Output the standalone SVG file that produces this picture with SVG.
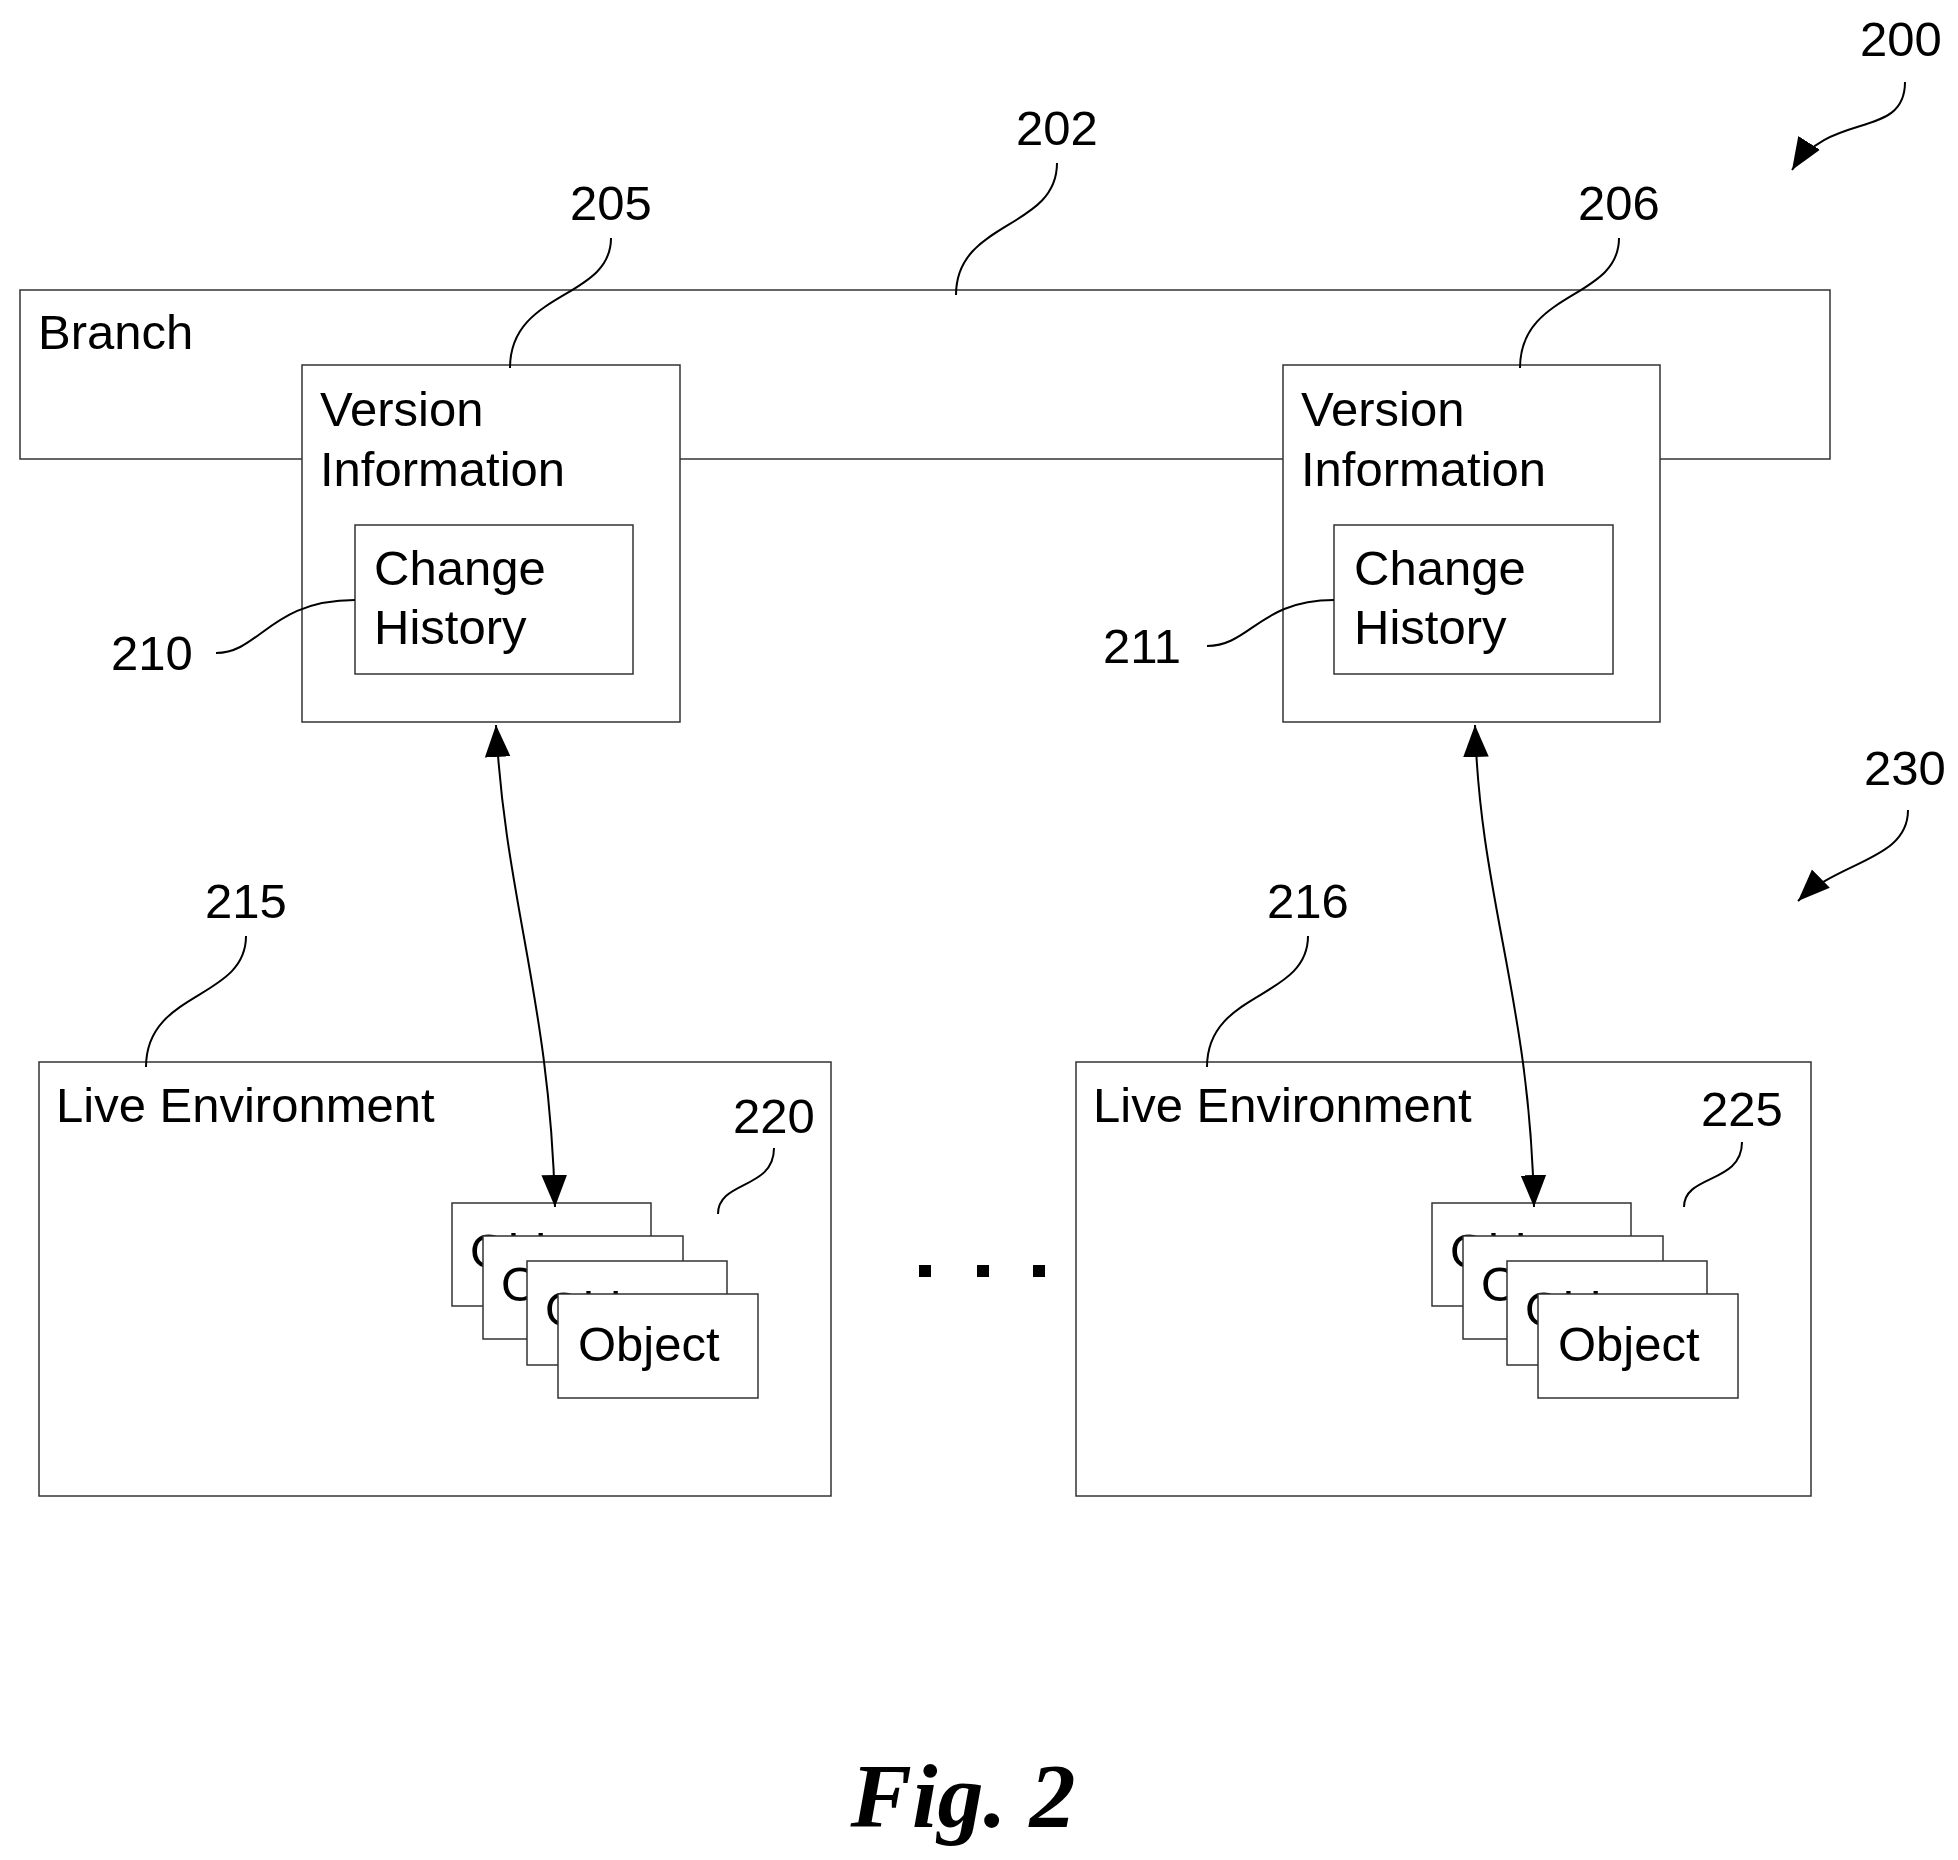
<svg xmlns="http://www.w3.org/2000/svg" width="1958" height="1860" viewBox="0 0 1958 1860">
<defs>
<style>
.b{fill:#fff;stroke:#333;stroke-width:1.5}
.t{font-family:"Liberation Sans",Arial,sans-serif;font-size:49px;fill:#000}
.l{fill:none;stroke:#000;stroke-width:2}
.f{font-family:"Liberation Serif","Times New Roman",serif;font-size:92px;font-weight:bold;font-style:italic}
</style>
<marker id="h" viewBox="0 0 10 10" refX="10" refY="5" markerWidth="32" markerHeight="32" markerUnits="userSpaceOnUse" orient="auto-start-reverse"><path d="M0,1 L10,5 L0,9 Z"/></marker>
</defs>
<rect width="1958" height="1860" fill="#fff"/>
<g id="branch"><rect class="b" x="20" y="290" width="1810" height="169"/><text class="t" x="38" y="349">Branch</text></g>
<g id="v205"><rect class="b" x="302" y="365" width="378" height="357"/><text class="t" x="320" y="426">Version</text><text class="t" x="320" y="486">Information</text></g>
<g id="c210"><rect class="b" x="355" y="525" width="278" height="149"/><text class="t" x="374" y="585">Change</text><text class="t" x="374" y="644">History</text></g>
<g id="v206"><rect class="b" x="1283" y="365" width="377" height="357"/><text class="t" x="1301" y="426">Version</text><text class="t" x="1301" y="486">Information</text></g>
<g id="c211"><rect class="b" x="1334" y="525" width="279" height="149"/><text class="t" x="1354" y="585">Change</text><text class="t" x="1354" y="644">History</text></g>
<g id="le215"><rect class="b" x="39" y="1062" width="792" height="434"/><text class="t" x="56" y="1122">Live Environment</text></g>
<g id="le216"><rect class="b" x="1076" y="1062" width="735" height="434"/><text class="t" x="1093" y="1122">Live Environment</text></g>
<g id="obj220">
<rect class="b" x="452" y="1203" width="199" height="103"/><text class="t" x="470" y="1268">Object</text>
<rect class="b" x="483" y="1236" width="200" height="103"/><text class="t" x="501" y="1301">Object</text>
<rect class="b" x="527" y="1261" width="200" height="104"/><text class="t" x="545" y="1326">Object</text>
<rect class="b" x="558" y="1294" width="200" height="104"/><text class="t" x="578" y="1361">Object</text>
</g>
<g id="obj225">
<rect class="b" x="1432" y="1203" width="199" height="103"/><text class="t" x="1450" y="1268">Object</text>
<rect class="b" x="1463" y="1236" width="200" height="103"/><text class="t" x="1481" y="1301">Object</text>
<rect class="b" x="1507" y="1261" width="200" height="104"/><text class="t" x="1525" y="1326">Object</text>
<rect class="b" x="1538" y="1294" width="200" height="104"/><text class="t" x="1558" y="1361">Object</text>
</g>
<g id="dots"><rect x="919" y="1265" width="12" height="12"/><rect x="977" y="1265" width="12" height="12"/><rect x="1033" y="1265" width="12" height="12"/></g>
<g id="connectors">
<path class="l" d="M496,725 C505,900 550,1000 555,1207" marker-start="url(#h)" marker-end="url(#h)"/>
<path class="l" d="M1475,725 C1480,900 1530,1000 1534,1207" marker-start="url(#h)" marker-end="url(#h)"/>
<path class="l" d="M1057,163 C1057,230 956,220 956,295"/>
<path class="l" d="M611,238 C611,300 510,290 510,368"/>
<path class="l" d="M1619,238 C1619,300 1520,290 1520,368"/>
<path class="l" d="M216,653 C260,653 270,600 355,600"/>
<path class="l" d="M1207,646 C1250,646 1260,600 1334,600"/>
<path class="l" d="M246,936 C246,1000 146,990 146,1067"/>
<path class="l" d="M1308,936 C1308,1000 1207,990 1207,1067"/>
<path class="l" d="M774,1148 C774,1190 718,1180 718,1214"/>
<path class="l" d="M1742,1142 C1742,1184 1684,1174 1684,1207"/>
<path class="l" d="M1905,82 C1905,140 1830,110 1792,170" marker-end="url(#h)"/>
<path class="l" d="M1908,810 C1908,860 1840,860 1798,901" marker-end="url(#h)"/>
</g>
<g id="labels" text-anchor="middle">
<text class="t" x="1901" y="56">200</text>
<text class="t" x="1057" y="145">202</text>
<text class="t" x="611" y="220">205</text>
<text class="t" x="1619" y="220">206</text>
<text class="t" x="152" y="670">210</text>
<text class="t" x="1142" y="663">211</text>
<text class="t" x="1905" y="785">230</text>
<text class="t" x="246" y="918">215</text>
<text class="t" x="1308" y="918">216</text>
<text class="t" x="774" y="1133">220</text>
<text class="t" x="1742" y="1126">225</text>
</g>
<text class="f" x="963" y="1827" text-anchor="middle">Fig. 2</text>
</svg>
